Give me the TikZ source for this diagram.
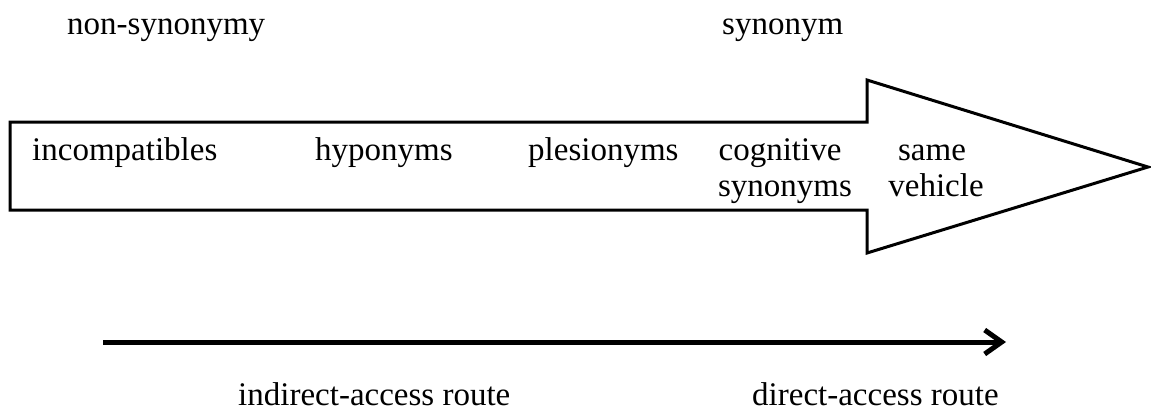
\documentclass[tikz,border=0pt]{standalone}
\usepackage{fontspec}
\setmainfont{Liberation Serif}
\usetikzlibrary{arrows.meta}
\begin{document}
\begin{tikzpicture}[x=1pt,y=-1pt,
  lbl/.style={inner sep=0pt, anchor=base west, font=\fontsize{33}{37}\selectfont},
  shape line/.style={line width=3pt, line join=miter},
  route/.style={line width=5pt, -{Straight Barb[length=17pt,width=24pt,line width=5pt]}}]
  \useasboundingbox (0,0) rectangle (1151,416);

  % the broad arrow of the scale
  \draw[shape line] (10,122) -- (867,122) -- (867,80) -- (1148,167)
        -- (867,253) -- (867,210) -- (10,210) -- cycle;

  % ends of the scale
  \node[lbl] (nonsyn) at (67,34) {non-synonymy};
  \node[lbl] (syn) at (722,34) {synonym};

  % kinds of relation along the arrow
  \node[lbl] (incomp) at (32,160) {incompatibles};
  \node[lbl] (hypo) at (315,160) {hyponyms};
  \node[lbl] (plesio) at (528,160) {plesionyms};
  \node[lbl, anchor=base] (cog) at (780,160) {cognitive};
  \node[lbl, anchor=base] (cogsyn) at (785,196) {synonyms};
  \node[lbl, anchor=base] (same) at (932,160) {same};
  \node[lbl, anchor=base] (vehicle) at (936,196) {vehicle};

  % access route
  \coordinate (rstart) at (103,342);
  \coordinate (rend) at (1006,342);
  \draw[route] (rstart) -- (rend);
  \node[lbl] (indirect) at (238,405) {indirect-access route};
  \node[lbl] (direct) at (752,405) {direct-access route};
\end{tikzpicture}
\end{document}
